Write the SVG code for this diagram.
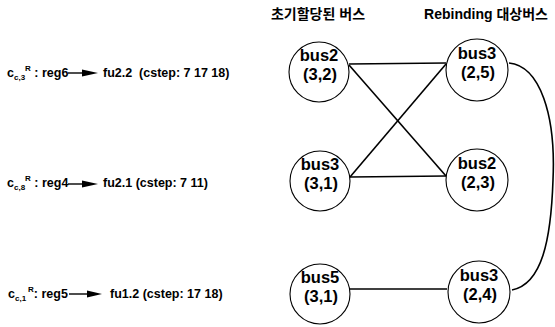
<svg xmlns="http://www.w3.org/2000/svg" width="555" height="327" viewBox="0 0 555 327">
  <style>
    .node circle { fill: #ffffff; stroke: #000000; stroke-width: 1.1; }
    .node text { font-family: "Liberation Sans", Arial, sans-serif; font-weight: bold; font-size: 16.5px; text-anchor: middle; fill: #000000; }
    .edge { fill: none; stroke: #000000; stroke-width: 1.6; }
    .head { font-family: "Liberation Sans", "Noto Sans CJK KR", sans-serif; font-weight: bold; font-size: 14px; text-anchor: middle; fill: #000000; }
    .lbl { font-family: "Liberation Sans", Arial, sans-serif; font-weight: bold; font-size: 12.5px; fill: #000000; }
    .sub { font-size: 8px; }
    .arr { stroke: #000000; stroke-width: 1.4; }
    .tip { fill: #000000; }
  </style>

  <!-- column headings -->
  <text class="head" x="318" y="19">초기할당된 버스</text>
  <text class="head" x="486" y="19">Rebinding 대상버스</text>

  <!-- connectors -->
  <g id="connectors">
    <line class="edge" x1="349" y1="64" x2="446" y2="63"/>
    <line class="edge" x1="349" y1="65" x2="446" y2="176"/>
    <line class="edge" x1="350" y1="177" x2="446" y2="64"/>
    <line class="edge" x1="350" y1="177" x2="446" y2="176"/>
    <line class="edge" x1="350" y1="289" x2="447" y2="289"/>
    <path class="edge" d="M 509 63 C 540 66, 556 115, 553 180 C 551 240, 542 284, 512 290"/>
  </g>

  <!-- initial buses -->
  <g id="n-bus2-32" class="node">
    <circle cx="319" cy="72" r="30"/>
    <text x="319" y="61">bus2</text>
    <text x="320" y="80">(3,2)</text>
  </g>
  <g id="n-bus3-31" class="node">
    <circle cx="320" cy="181" r="30"/>
    <text x="320" y="170">bus3</text>
    <text x="321" y="189">(3,1)</text>
  </g>
  <g id="n-bus5-31" class="node">
    <circle cx="320" cy="294" r="30"/>
    <text x="320" y="283">bus5</text>
    <text x="321" y="302">(3,1)</text>
  </g>

  <!-- rebinding target buses -->
  <g id="n-bus3-25" class="node">
    <circle cx="477" cy="70" r="31"/>
    <text x="477" y="59">bus3</text>
    <text x="478" y="78">(2,5)</text>
  </g>
  <g id="n-bus2-23" class="node">
    <circle cx="477" cy="180" r="31"/>
    <text x="477" y="169">bus2</text>
    <text x="478" y="188">(2,3)</text>
  </g>
  <g id="n-bus3-24" class="node">
    <circle cx="479" cy="292" r="31"/>
    <text x="479" y="281">bus3</text>
    <text x="480" y="300">(2,4)</text>
  </g>

  <!-- transfer list -->
  <g id="row1">
    <text class="lbl" x="7" y="77">c<tspan class="sub" dy="3">c,3</tspan><tspan class="sub" dy="-9">R</tspan><tspan dy="6"> : reg6</tspan></text>
    <line class="arr" x1="68" y1="73" x2="84" y2="73"/>
    <polygon class="tip" points="82,69.5 98,73 82,76.5"/>
    <text class="lbl" x="103" y="77" xml:space="preserve">fu2.2  (cstep: 7 17 18)</text>
  </g>
  <g id="row2">
    <text class="lbl" x="7" y="187">c<tspan class="sub" dy="3">c,8</tspan><tspan class="sub" dy="-9">R</tspan><tspan dy="6"> : reg4</tspan></text>
    <line class="arr" x1="68" y1="184" x2="84" y2="184"/>
    <polygon class="tip" points="82,180.5 98,184 82,187.5"/>
    <text class="lbl" x="103" y="187">fu2.1 (cstep: 7 11)</text>
  </g>
  <g id="row3">
    <text class="lbl" x="8" y="298">c<tspan class="sub" dy="3">c,1</tspan><tspan class="sub" dx="2" dy="-9">R</tspan><tspan dy="6">: reg5</tspan></text>
    <line class="arr" x1="69" y1="294" x2="89" y2="294"/>
    <polygon class="tip" points="87,290.5 102,294 87,297.5"/>
    <text class="lbl" x="110" y="298">fu1.2 (cstep: 17 18)</text>
  </g>
</svg>
